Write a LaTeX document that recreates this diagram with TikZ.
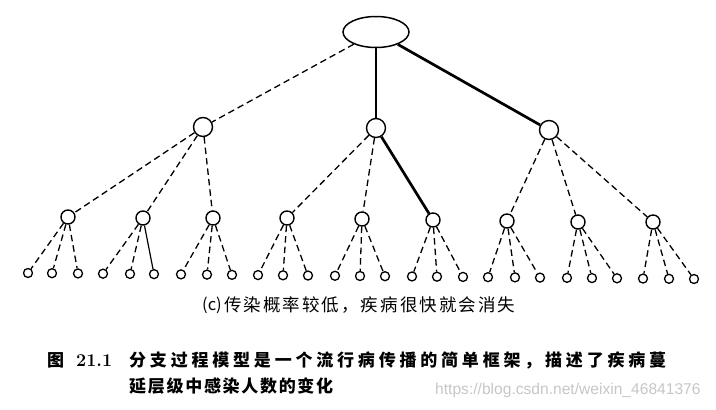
\documentclass[tikz,border=0pt]{standalone}
\usepackage{fontspec}
\usetikzlibrary{shapes.geometric}
\newfontfamily\cjk{Noto Sans CJK SC}
\newfontfamily\wm{Liberation Sans}
\def\spread#1{\spreadA#1\relax}
\def\spreadA#1{#1\spreadB}
\def\spreadB#1{\ifx\relax#1\else\hfill#1\expandafter\spreadB\fi}
\tikzset{
  dsh/.style={line width=1.3pt, dash pattern=on 6.5pt off 4pt},
  thk/.style={line width=2.7pt},
  thn/.style={line width=1.2pt},
  lvA/.style={circle, draw, line width=1.4pt, minimum size=19pt, inner sep=0pt},
  lvB/.style={circle, draw, line width=1.4pt, minimum size=14pt, inner sep=0pt},
  leaf/.style={circle, draw, line width=1.3pt, minimum size=9pt, inner sep=0pt},
  txt/.style={anchor=west, inner sep=0pt},
}
\begin{document}
\begin{tikzpicture}[x=1pt, y=-1pt]
\useasboundingbox (0,0) rectangle (716,410);
\fill[white] (0,0) rectangle (716,410);
% root
\node[ellipse, draw, line width=1.5pt, minimum width=66pt, minimum height=31pt, inner sep=0pt] (r) at (376,32) {};
% level 1
\node[lvA] (a) at (203,127) {};
\node[lvA] (b) at (376,128) {};
\node[lvA] (c) at (549,130) {};
% level 2
\foreach \n/\x/\y in {a1/68/217, a2/143/218, a3/213/218, b1/287/218, b2/362/219, b3/433/220, c1/507/221, c2/578/222, c3/653/222}
  \node[lvB] (\n) at (\x,\y) {};
% leaves
\foreach \x [count=\i] in {28,52,78,103,130,154,181,207,232,258,283,308,335,360,385,412,437,463,488,515,540,567,592,617,643,669,694}
  \node[leaf] (l\i) at (\x,{273+6*(\x-28)/666}) {};
% root edges
\draw[dsh] (r) -- (a);
\draw[thk] (r) -- (b);
\draw[thk] (r) -- (c);
% level 1 edges
\foreach \p/\q/\s in {a/a1/dsh, a/a2/dsh, a/a3/dsh, b/b1/dsh, b/b2/dsh, b/b3/thk, c/c1/dsh, c/c2/dsh, c/c3/dsh}
  \draw[\s] (\p) -- (\q);
% level 2 edges
\foreach \p/\q/\s in {a1/l1/dsh, a1/l2/dsh, a1/l3/dsh,
                      a2/l4/dsh, a2/l5/dsh, a2/l6/thn,
                      a3/l7/dsh, a3/l8/dsh, a3/l9/dsh,
                      b1/l10/dsh, b1/l11/dsh, b1/l12/dsh,
                      b2/l13/dsh, b2/l14/dsh, b2/l15/dsh,
                      b3/l16/dsh, b3/l17/dsh, b3/l18/dsh,
                      c1/l19/dsh, c1/l20/dsh, c1/l21/dsh,
                      c2/l22/dsh, c2/l23/dsh, c2/l24/dsh,
                      c3/l25/dsh, c3/l26/dsh, c3/l27/dsh}
  \draw[\s] (\p) -- (\q);
% texts
\node[txt, font=\cjk\fontsize{16.5}{17}\selectfont] (subc) at (202,305) {(c)};
\node[txt, font=\cjk\fontsize{17.5}{18}\selectfont] (sub) at (224,305) {\makebox[291pt]{\spread{传染概率较低，疾病很快就会消失}}};
\node[txt, font=\cjk\bfseries\fontsize{17}{17}\selectfont] (fig) at (47,360) {图};
\node[txt, font=\bfseries\fontsize{18}{18}\selectfont] (num) at (76,361) {21.1};
\node[txt, font=\cjk\bfseries\fontsize{17}{17}\selectfont] (cap1) at (129,360) {\makebox[537pt]{\spread{分支过程模型是一个流行病传播的简单框架，描述了疾病蔓}}};
\node[txt, font=\cjk\bfseries\fontsize{17}{17}\selectfont] (cap2) at (129,386) {\makebox[204pt]{\spread{延层级中感染人数的变化}}};
\node[txt, text=black!22, font=\wm\fontsize{15.6}{16}\selectfont] (mark) at (435,390) {https://blog.csdn.net/weixin\_46841376};
\end{tikzpicture}
\end{document}
